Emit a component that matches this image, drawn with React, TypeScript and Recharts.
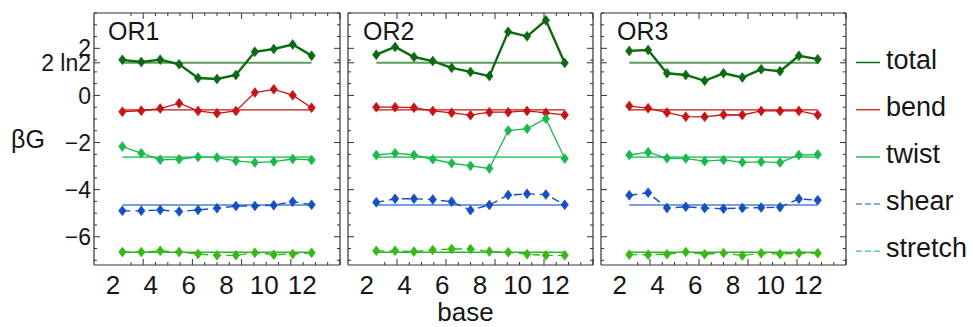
import React from "react";
import { LineChart, Line, XAxis, YAxis, ReferenceLine } from "recharts";

// base-step positions (between neighbouring bases)
const steps = [2.5, 3.5, 4.5, 5.5, 6.5, 7.5, 8.5, 9.5, 10.5, 11.5, 12.5];

const or1Total = [1.51, 1.42, 1.52, 1.32, 0.74, 0.7, 0.87, 1.85, 1.97, 2.16, 1.69];
const or1Bend = [-0.69, -0.65, -0.56, -0.33, -0.66, -0.76, -0.66, 0.12, 0.26, 0.01, -0.52];
const or1Twist = [-2.17, -2.45, -2.73, -2.71, -2.61, -2.64, -2.78, -2.85, -2.81, -2.7, -2.74];
const or1Shear = [-4.9, -4.9, -4.86, -4.93, -4.86, -4.79, -4.7, -4.69, -4.66, -4.51, -4.64];
const or1Stretch = [-6.65, -6.65, -6.6, -6.65, -6.73, -6.79, -6.79, -6.68, -6.76, -6.73, -6.68];

const or2Total = [1.73, 2.06, 1.63, 1.46, 1.17, 1.0, 0.82, 2.7, 2.51, 3.19, 1.38];
const or2Bend = [-0.5, -0.5, -0.52, -0.66, -0.74, -0.84, -0.71, -0.71, -0.66, -0.74, -0.83];
const or2Twist = [-2.53, -2.45, -2.53, -2.71, -2.88, -2.99, -3.1, -1.49, -1.41, -0.99, -2.68];
const or2Shear = [-4.54, -4.39, -4.39, -4.42, -4.51, -4.87, -4.65, -4.23, -4.18, -4.21, -4.64];
const or2Stretch = [-6.6, -6.6, -6.63, -6.56, -6.52, -6.52, -6.63, -6.66, -6.74, -6.79, -6.79];

const or3Total = [1.89, 1.93, 0.94, 0.87, 0.62, 0.94, 0.76, 1.11, 1.03, 1.68, 1.54];
const or3Bend = [-0.45, -0.54, -0.73, -0.9, -0.91, -0.82, -0.83, -0.66, -0.66, -0.66, -0.83];
const or3Twist = [-2.53, -2.41, -2.67, -2.68, -2.79, -2.74, -2.84, -2.82, -2.85, -2.53, -2.51];
const or3Shear = [-4.24, -4.13, -4.78, -4.73, -4.78, -4.81, -4.78, -4.76, -4.75, -4.39, -4.45];
const or3Stretch = [-6.76, -6.76, -6.74, -6.65, -6.74, -6.69, -6.8, -6.7, -6.73, -6.7, -6.7];

const seriesNames = ["total", "bend", "twist", "shear", "stretch"];
// horizontal reference levels, same order as seriesNames
const meanLevels = [2 * Math.LN2, -0.61, -2.62, -4.65, -6.66];

const xTicks = [2, 4, 6, 8, 10, 12];
const yTicks = [-6, -4, -2, 0, 2 * Math.LN2, 2];
const xDomain = [1, 14];
const yDomain = [-7.2, 3.5];

const panelTitles = ["OR1", "OR2", "OR3"];
const panelSeries = [
  [or1Total, or1Bend, or1Twist, or1Shear, or1Stretch],
  [or2Total, or2Bend, or2Twist, or2Shear, or2Stretch],
  [or3Total, or3Bend, or3Twist, or3Shear, or3Stretch],
];

const styles: Record<string, { color: string; width: number; dash?: string; mean: string; meanWidth: number; legend: string }> = {
  total: { color: "#0b6a12", width: 2.4, mean: "#5e9b5e", meanWidth: 2, legend: "#0b6a12" },
  bend: { color: "#c41414", width: 1.3, mean: "#cc1111", meanWidth: 1.3, legend: "#d43030" },
  twist: { color: "#1cb84e", width: 1.3, mean: "#4ccf7a", meanWidth: 1.6, legend: "#2cbf5c" },
  shear: { color: "#1450c0", width: 1.4, dash: "8 5", mean: "#4a7fd4", meanWidth: 1.6, legend: "#5b93e0" },
  stretch: { color: "#38b816", width: 1.4, dash: "8 5", mean: "#2cb52c", meanWidth: 1.6, legend: "#5ad08a" },
};

const frameColor = "#333";
const textColor = "#161616";
const fontFamily = "'Liberation Sans', Arial, sans-serif";

const xMinor: number[] = [];
for (let v = 1.5; v <= 13.5; v += 0.5) xMinor.push(v);
const yMinor: number[] = [];
for (let v = -7; v <= 3.5; v += 0.5) yMinor.push(v);
yMinor.push(2 * Math.LN2);

function frameTick(side: "top" | "bottom" | "left" | "right", major: number[]) {
  return (p: any) => {
    const v = p.payload.value;
    const len = major.some((m) => Math.abs(m - v) < 1e-6) ? 6 : 3;
    const { x, y } = p;
    let x2 = x;
    let y2 = y;
    if (side === "bottom") y2 = y - len;
    else if (side === "top") y2 = y + len;
    else if (side === "left") x2 = x + len;
    else x2 = x - len;
    return <line x1={x} y1={y} x2={x2} y2={y2} stroke={frameColor} strokeWidth={1} />;
  };
}

function diamond(color: string) {
  return (p: any) => {
    const { cx, cy, index } = p;
    if (cx == null || cy == null) return <g key={`n-${index}`} />;
    return (
      <polygon
        key={`d-${index}`}
        points={`${cx},${cy - 5} ${cx + 3.8},${cy} ${cx},${cy + 5} ${cx - 3.8},${cy}`}
        fill={color}
        stroke={color}
        strokeWidth={0.5}
      />
    );
  };
}

function yFormat(v: number) {
  if (Math.abs(v - 2 * Math.LN2) < 1e-6) return "2 ln2";
  if (v < 0) return "\u2212" + Math.abs(v);
  return String(v);
}

type PanelProps = { idx: number; left: number; width: number; margin: any; showY?: boolean; xLabel?: string };

function Panel({ idx, left, width, margin, showY, xLabel }: PanelProps) {
  const cols = panelSeries[idx];
  const data = steps.map((s, i) => {
    const row: any = { step: s };
    seriesNames.forEach((n, k) => (row[n] = cols[k][i]));
    return row;
  });
  return (
    <div style={{ position: "absolute", left, top: 0 }}>
      <LineChart width={width} height={327} data={data} margin={margin}>
        <XAxis
          dataKey="step"
          type="number"
          domain={xDomain}
          allowDataOverflow
          ticks={xTicks}
          interval={0}
          height={62}
          tickSize={0}
          tickMargin={11}
          axisLine={false}
          tickLine={false}
          tick={{ fontSize: 26, fill: textColor, fontFamily }}
          label={xLabel ? { value: xLabel, position: "insideBottom", offset: 6, dx: -5, fontSize: 26, fill: textColor, fontFamily } : undefined}
        />
        <YAxis
          type="number"
          domain={yDomain}
          allowDataOverflow
          ticks={yTicks}
          interval={0}
          hide={!showY}
          width={94}
          tickSize={0}
          tickMargin={3}
          axisLine={false}
          tickLine={false}
          tickFormatter={yFormat}
          tick={{ fontSize: 23, fill: textColor, fontFamily }}
          label={showY ? { value: "\u03b2G", position: "insideLeft", offset: 11, angle: 0, fontSize: 25, fill: textColor, fontFamily } : undefined}
        />
        {/* frame with inward ticks */}
        <XAxis xAxisId="fb" orientation="bottom" mirror type="number" domain={xDomain} allowDataOverflow ticks={xMinor} interval={0} height={10} tickSize={0} tickMargin={0} tickLine={false} axisLine={{ stroke: frameColor, strokeWidth: 1.2 }} tick={frameTick("bottom", xTicks)} />
        <XAxis xAxisId="ft" orientation="top" mirror type="number" domain={xDomain} allowDataOverflow ticks={xMinor} interval={0} height={10} tickSize={0} tickMargin={0} tickLine={false} axisLine={{ stroke: frameColor, strokeWidth: 1.2 }} tick={frameTick("top", xTicks)} />
        <YAxis yAxisId="fl" orientation="left" mirror type="number" domain={yDomain} allowDataOverflow ticks={yMinor} interval={0} width={10} tickSize={0} tickMargin={0} tickLine={false} axisLine={{ stroke: frameColor, strokeWidth: 1.2 }} tick={frameTick("left", yTicks)} />
        <YAxis yAxisId="fr" orientation="right" mirror type="number" domain={yDomain} allowDataOverflow ticks={yMinor} interval={0} width={10} tickSize={0} tickMargin={0} tickLine={false} axisLine={{ stroke: frameColor, strokeWidth: 1.2 }} tick={frameTick("right", yTicks)} />

        {seriesNames.map((n, k) => (
          <ReferenceLine
            key={`m-${n}`}
            segment={[
              { x: steps[0], y: meanLevels[k] },
              { x: steps[steps.length - 1], y: meanLevels[k] },
            ]}
            stroke={styles[n].mean}
            strokeWidth={styles[n].meanWidth}
            ifOverflow="visible"
          />
        ))}
        {seriesNames.map((n) => (
          <Line
            key={n}
            dataKey={n}
            name={n}
            type="linear"
            stroke={styles[n].color}
            strokeWidth={styles[n].width}
            strokeDasharray={styles[n].dash}
            dot={diamond(styles[n].color)}
            activeDot={false}
            isAnimationActive={false}
          />
        ))}
      </LineChart>
    </div>
  );
}

function SeriesLegend() {
  return (
    <svg width={118} height={327} style={{ position: "absolute", left: 855, top: 0, overflow: "visible" }}>
      {seriesNames.map((n, i) => {
        const s = styles[n];
        const y = 62.5 + i * 47.2;
        return (
          <g key={n}>
            <line x1={1} x2={25} y1={y} y2={y} stroke={s.legend} strokeWidth={1.5} strokeDasharray={s.dash ? "6 3" : undefined} />
            <text x={31} y={y + 6} fontSize={27} fill={textColor} fontFamily={fontFamily}>
              {n}
            </text>
          </g>
        );
      })}
    </svg>
  );
}

export default function App() {
  const titleLefts = [108, 363, 617];
  return (
    <div style={{ position: "fixed", left: 0, top: 0, width: 973, height: 327, background: "#fff", fontFamily }}>
      <Panel idx={0} left={0} width={345} margin={{ top: 13, right: 5, left: 0, bottom: 0 }} showY />
      <Panel idx={1} left={345} width={250} margin={{ top: 13, right: 2, left: 3, bottom: 0 }} xLabel="base" />
      <Panel idx={2} left={595} width={253} margin={{ top: 13, right: 2, left: 6, bottom: 0 }} />
      <SeriesLegend />
      {panelTitles.map((t, i) => (
        <div key={t} style={{ position: "absolute", left: titleLefts[i], top: 19, fontSize: 25, lineHeight: "25px", color: textColor }}>
          {t}
        </div>
      ))}
    </div>
  );
}
